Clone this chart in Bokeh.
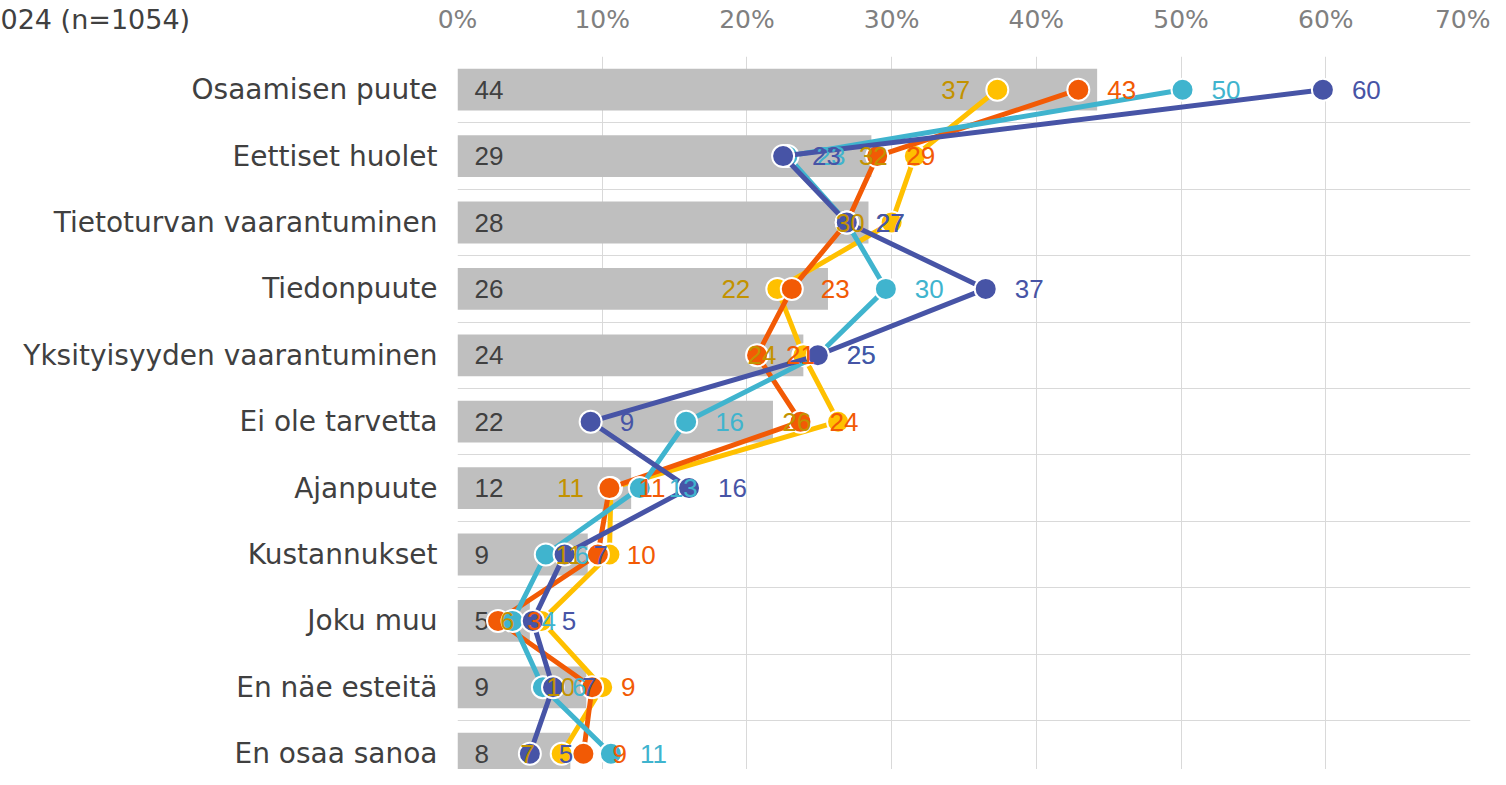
from bokeh.plotting import figure
from bokeh.models import Range1d, FixedTicker, PrintfTickFormatter, LinearAxis, Title, ColumnDataSource
from bokeh.core.properties import value
from bokeh.embed import file_html
from bokeh.resources import INLINE

categories = ["Osaamisen puute", "Eettiset huolet", "Tietoturvan vaarantuminen", "Tiedonpuute",
              "Yksityisyyden vaarantuminen", "Ei ole tarvetta", "Ajanpuute", "Kustannukset",
              "Joku muu", "En näe esteitä", "En osaa sanoa"]
bar_values = [44.2, 28.6, 28.4, 25.6, 23.9, 21.8, 12.0, 9.0, 5.0, 8.9, 7.8]
yellow_values = [37.3, 31.6, 30.0, 22.1, 23.9, 26.3, 10.6, 10.5, 5.8, 10.0, 7.2]
orange_values = [42.9, 29.0, 26.9, 23.1, 20.7, 23.7, 10.5, 9.7, 2.8, 9.3, 8.7]
cyan_values = [50.1, 22.8, 26.9, 29.6, 24.9, 15.8, 12.6, 6.1, 3.8, 5.9, 10.6]
blue_values = [59.8, 22.5, 26.9, 36.5, 24.9, 9.2, 16.0, 7.4, 5.2, 6.6, 5.0]
x_ticks = [0, 10, 20, 30, 40, 50, 60, 70]
title_text = "024 (n=1054)"

n = len(categories)
idx = list(range(n))

W, H = 1490, 769
left, top = 457, 56
frame_w = 1013
row_px = 66.4
span = (H - top) / row_px

p = figure(width=W, height=H, output_backend="svg", toolbar_location=None,
           x_range=Range1d(0, 70), y_range=Range1d(-0.5 + span, -0.5),
           x_axis_location=None, y_axis_location=None,
           min_border_left=left, min_border_right=W - left - frame_w,
           min_border_top=top, min_border_bottom=0)
p.outline_line_color = None
p.background_fill_color = "white"

# top axis
xa = LinearAxis(ticker=FixedTicker(ticks=x_ticks), formatter=PrintfTickFormatter(format="%d%%"))
xa.axis_line_color = None
xa.major_tick_line_color = None
xa.minor_tick_line_color = None
xa.major_tick_out = 0
xa.major_tick_in = 0
xa.major_label_text_font = "DejaVu Sans"
xa.major_label_text_font_size = "25px"
xa.major_label_text_color = "#808080"
xa.major_label_standoff = 23
p.add_layout(xa, "above")

# left axis with categories
ya = LinearAxis(ticker=FixedTicker(ticks=idx))
ya.major_label_overrides = {i: c for i, c in enumerate(categories)}
ya.axis_line_color = None
ya.major_tick_line_color = None
ya.minor_tick_line_color = None
ya.major_tick_out = 0
ya.major_tick_in = 0
ya.major_label_text_font = "DejaVu Sans"
ya.major_label_text_font_size = "28px"
ya.major_label_text_color = "#404040"
ya.major_label_standoff = 20
p.add_layout(ya, "left")

p.xgrid.ticker = FixedTicker(ticks=x_ticks)
p.xgrid.grid_line_color = "#D9D9D9"
p.ygrid.ticker = FixedTicker(ticks=[i - 0.5 for i in range(n + 1)])
p.ygrid.grid_line_color = "#D9D9D9"

# bars
bar_src = ColumnDataSource(dict(y=idx, right=bar_values,
                                lab=[str(int(v + 0.5)) for v in bar_values],
                                zero=[0] * n))
p.hbar(y="y", left=0, right="right", height=0.63, source=bar_src,
       fill_color="#BFBFBF", line_color=None)
p.text(x="zero", y="y", text="lab", source=bar_src, x_offset=17,
       text_align="left", text_baseline="middle", text_color="#404040",
       text_font=value("Liberation Sans"), text_font_size="26px")

series = [
    (yellow_values, "#FFC000", "#C39200", "left"),
    (orange_values, "#F25A05", "#F25A05", "right"),
    (cyan_values, "#40B4CE", "#40B4CE", "right"),
    (blue_values, "#4754A6", "#4754A6", "right"),
]

for vals, col, lab_col, side in series:
    p.line(x=vals, y=idx, line_color=col, line_width=5, line_join="round")
    p.scatter(x=vals, y=idx, size=22, fill_color=col, line_color="white", line_width=2)

for vals, col, lab_col, side in series:
    src = ColumnDataSource(dict(x=vals, y=idx, lab=[str(int(v + 0.5)) for v in vals]))
    if side == "left":
        p.text(x="x", y="y", text="lab", source=src, x_offset=-27, text_align="right",
               text_baseline="middle", text_color=lab_col,
               text_font=value("Liberation Sans"), text_font_size="26px")
    else:
        p.text(x="x", y="y", text="lab", source=src, x_offset=29, text_align="left",
               text_baseline="middle", text_color=lab_col,
               text_font=value("Liberation Sans"), text_font_size="26px")

p.add_layout(Title(text=title_text, align="left", vertical_align="bottom",
                   offset=-left, standoff=-66, text_font="DejaVu Sans",
                   text_font_size="27px", text_font_style="normal",
                   text_color="#404040"), "above")

open("out.html", "w").write(file_html(p, INLINE))
